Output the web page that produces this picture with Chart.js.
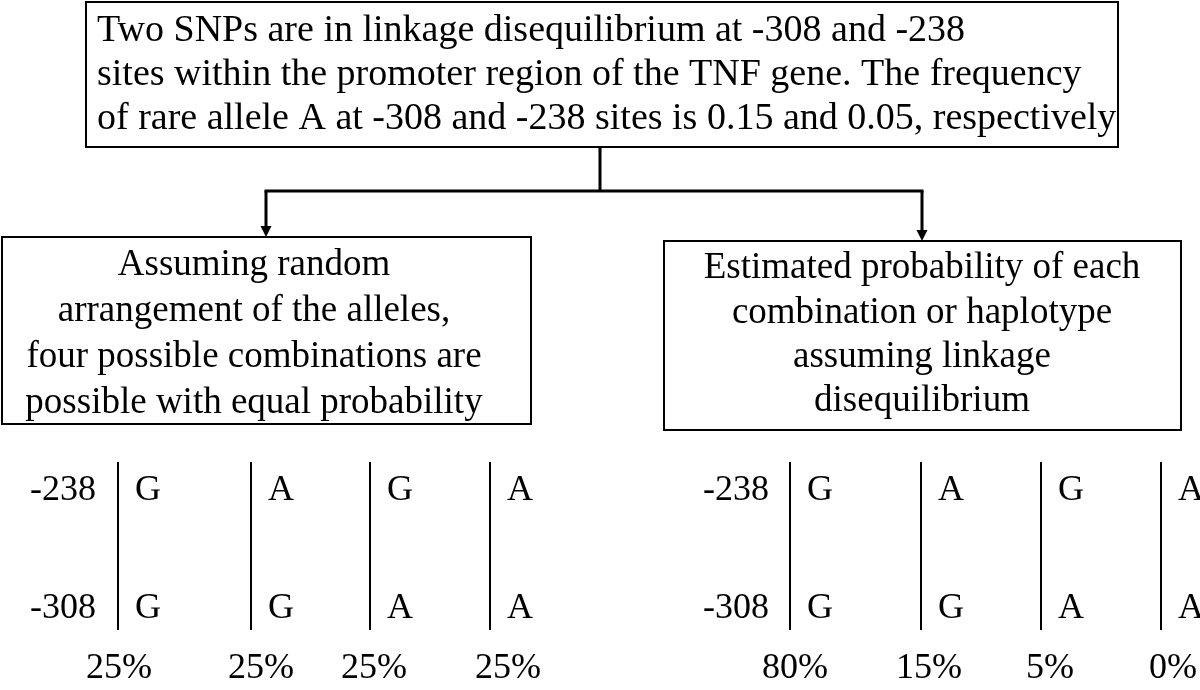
<!DOCTYPE html>
<html>
<head>
<meta charset="utf-8">
<script src="https://cdn.jsdelivr.net/npm/chart.js@4"></script>
<style>
  html, body { margin: 0; padding: 0; background: #fff; }
  #wrap { width: 1200px; height: 690px; }
</style>
</head>
<body>
<div id="wrap"><canvas id="diagram" width="1200" height="690"></canvas></div>
<script>
// --- data ---
const introLines = [
    'Two SNPs are in linkage disequilibrium at -308 and -238',
    'sites within the promoter region of the TNF gene. The frequency',
    'of rare allele A at -308 and -238 sites is 0.15 and 0.05, respectively'
];
const randomLines = ['Assuming random', 'arrangement of the alleles,', 'four possible combinations are', 'possible with equal probability'];
const ldLines = ['Estimated probability of each', 'combination or haplotype', 'assuming linkage', 'disequilibrium'];
const siteLabels = ['-238', '-308'];
const allele238 = ['G', 'A', 'G', 'A'];
const allele308 = ['G', 'G', 'A', 'A'];
const randomPct = [25, 25, 25, 25];
const ldPct = [80, 15, 5, 0];

// --- layout (diagram units = pixels of the original figure) ---
const layout = {
    topBox: { x0: 86, y0: 2, x1: 1118, y1: 147, textX: 97, baselines: [41, 85, 129] },
    stem: { x: 600, y0: 147, y1: 191 },
    leftBox: { x0: 2, y0: 237, x1: 531, y1: 424, cx: 254, baselines: [275, 321, 367, 413], arrowX: 266 },
    rightBox: { x0: 664, y0: 241, x1: 1181, y1: 430, cx: 922, baselines: [278, 323, 367, 411], arrowX: 922 },
    leftGroup: { labelX: 96, bars: [118, 251, 370, 490], pctX: [119, 261, 374, 508] },
    rightGroup: { labelX: 769, bars: [790, 921, 1041, 1161], pctX: [795, 929, 1050, 1173] },
    rows: { top: 500, bottom: 618, barY0: 462, barY1: 630, pct: 678 }
};

const serif = '"Liberation Serif", "Times New Roman", serif';

const diagramPlugin = {
    id: 'snpDiagram',
    afterDraw(chart) {
        const ctx = chart.ctx;
        const sx = chart.scales.x, sy = chart.scales.y;
        const X = v => sx.getPixelForValue(v);
        const Y = v => sy.getPixelForValue(v);

        ctx.save();
        ctx.strokeStyle = '#000';
        ctx.fillStyle = '#000';

        function box(b) {
            ctx.lineWidth = 2;
            ctx.strokeRect(X(b.x0), Y(b.y0), X(b.x1) - X(b.x0), Y(b.y1) - Y(b.y0));
        }
        function arrow(x, y0, y1) {
            ctx.lineWidth = 3;
            ctx.beginPath();
            ctx.moveTo(X(x), Y(y0));
            ctx.lineTo(X(x), Y(y1) - 8);
            ctx.stroke();
            ctx.beginPath();
            ctx.moveTo(X(x) - 5.5, Y(y1) - 11);
            ctx.lineTo(X(x) + 5.5, Y(y1) - 11);
            ctx.lineTo(X(x), Y(y1));
            ctx.closePath();
            ctx.fill();
        }

        // top box
        const t = layout.topBox;
        box(t);
        ctx.font = '38px ' + serif;
        ctx.textAlign = 'left';
        ctx.textBaseline = 'alphabetic';
        introLines.forEach((s, i) => ctx.fillText(s, X(t.textX), Y(t.baselines[i])));

        // connectors
        const st = layout.stem, L = layout.leftBox, R = layout.rightBox;
        ctx.lineWidth = 3;
        ctx.beginPath();
        ctx.moveTo(X(st.x), Y(st.y0));
        ctx.lineTo(X(st.x), Y(st.y1));
        ctx.moveTo(X(L.arrowX) - 1.5, Y(st.y1));
        ctx.lineTo(X(R.arrowX) + 1.5, Y(st.y1));
        ctx.stroke();
        arrow(L.arrowX, st.y1, L.y0);
        arrow(R.arrowX, st.y1, R.y0);

        // lower boxes
        [[L, randomLines], [R, ldLines]].forEach(([b, lines]) => {
            box(b);
            ctx.font = '37px ' + serif;
            ctx.textAlign = 'center';
            lines.forEach((s, i) => ctx.fillText(s, X(b.cx), Y(b.baselines[i])));
        });

        // haplotype columns
        const r = layout.rows;
        [[layout.leftGroup, randomPct], [layout.rightGroup, ldPct]].forEach(([g, pct]) => {
            ctx.font = '36px ' + serif;
            ctx.textAlign = 'right';
            ctx.fillText(siteLabels[0], X(g.labelX), Y(r.top));
            ctx.fillText(siteLabels[1], X(g.labelX), Y(r.bottom));
            ctx.lineWidth = 2;
            g.bars.forEach((bx, i) => {
                ctx.beginPath();
                ctx.moveTo(X(bx), Y(r.barY0));
                ctx.lineTo(X(bx), Y(r.barY1));
                ctx.stroke();
                ctx.font = '36px ' + serif;
                ctx.textAlign = 'left';
                ctx.fillText(allele238[i], X(bx) + 17, Y(r.top));
                ctx.fillText(allele308[i], X(bx) + 17, Y(r.bottom));
                ctx.textAlign = 'center';
                ctx.fillText(pct[i] + '%', X(g.pctX[i]), Y(r.pct));
            });
        });
        ctx.restore();
    }
};

new Chart(document.getElementById('diagram').getContext('2d'), {
    type: 'scatter',
    data: { datasets: [{ data: [], pointRadius: 0 }] },
    options: {
        responsive: false,
        animation: false,
        layout: { padding: 0 },
        plugins: { legend: { display: false }, tooltip: { enabled: false } },
        scales: {
            x: { type: 'linear', min: 0, max: 1200, display: false },
            y: { type: 'linear', min: 0, max: 690, reverse: true, display: false }
        }
    },
    plugins: [diagramPlugin]
});
</script>
</body>
</html>
